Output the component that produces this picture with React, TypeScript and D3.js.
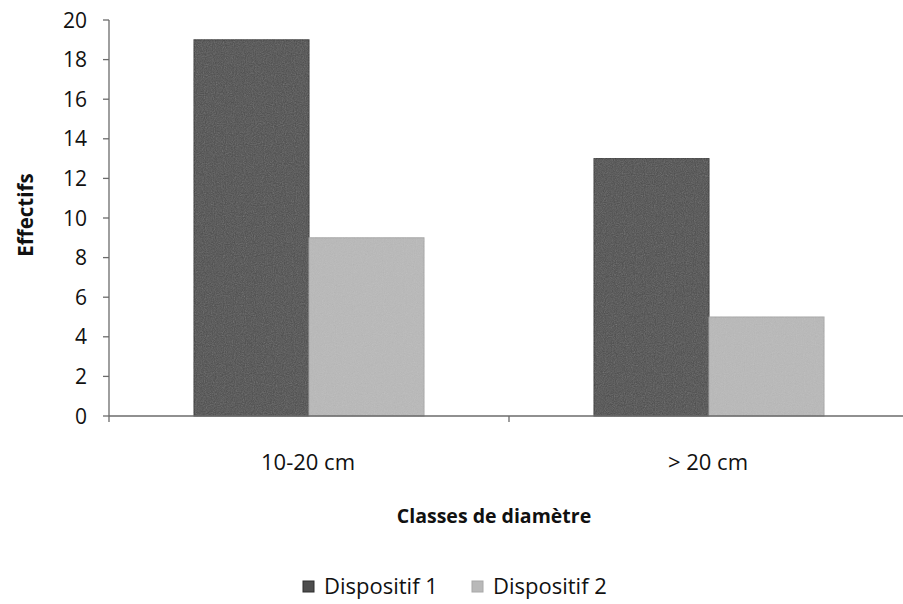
import React from "react";
import * as d3 from "d3";

const categories = ["10-20 cm", "> 20 cm"];
const seriesNames = ["Dispositif 1", "Dispositif 2"];
const dispositif1 = [19, 13];
const dispositif2 = [9, 5];
const yTicks = [0, 2, 4, 6, 8, 10, 12, 14, 16, 18, 20];

const W = 903;
const H = 604;
const FONT = "'Open Sans', 'Noto Sans', sans-serif";
const colors = ["#4d4d4d", "#b9b9b9"];
const strokes = ["#2e2e2e", "#a8a8a8"];

export default function App() {
  const left = 109;
  const right = 909;
  const top = 20;
  const bottom = 416;

  const y = d3.scaleLinear().domain([0, 20]).range([bottom, top]);
  const x0 = d3.scaleBand<string>().domain(categories).range([left, right]).paddingInner(0).paddingOuter(0);
  const barW = 115;
  const values = [dispositif1, dispositif2];

  return (
    <svg width={W} height={H} style={{ position: "absolute", left: 0, top: 0, background: "#fff" }}>
      <defs>
        <filter id="grain">
          <feTurbulence type="fractalNoise" baseFrequency="0.9" numOctaves="2" seed="3" result="n" />
          <feColorMatrix type="saturate" values="0" in="n" result="g" />
          <feComponentTransfer in="g" result="g2">
            <feFuncA type="linear" slope="0.18" />
          </feComponentTransfer>
          <feComposite in="g2" in2="SourceGraphic" operator="in" result="c" />
          <feMerge>
            <feMergeNode in="SourceGraphic" />
            <feMergeNode in="c" />
          </feMerge>
        </filter>
      </defs>

      {/* bars */}
      {categories.map((c, ci) => {
        const cx = (x0(c) as number) + x0.bandwidth() / 2;
        return values.map((vals, si) => (
          <rect
            key={c + si}
            x={cx - barW + si * barW}
            y={y(vals[ci])}
            width={barW}
            height={y(0) - y(vals[ci])}
            fill={colors[si]}
            stroke={strokes[si]}
            strokeWidth={1}
            filter="url(#grain)"
          />
        ));
      })}

      {/* y axis */}
      <line x1={left} x2={left} y1={y(20)} y2={bottom + 6} stroke="#6b6b6b" strokeWidth={1.3} />
      {yTicks.map((t) => (
        <g key={t}>
          <line x1={left - 6} x2={left} y1={y(t)} y2={y(t)} stroke="#6b6b6b" strokeWidth={1.3} />
          <text x={87} y={y(t)} dy="0.36em" textAnchor="end" fontFamily={FONT} fontSize={21} fill="#111">
            {t}
          </text>
        </g>
      ))}

      {/* x axis */}
      <line x1={left} x2={right} y1={bottom} y2={bottom} stroke="#6b6b6b" strokeWidth={1.3} />
      {categories.map((c) => (
        <line key={"t" + c} x1={(x0(c) as number) + x0.bandwidth()} x2={(x0(c) as number) + x0.bandwidth()} y1={bottom} y2={bottom + 6} stroke="#6b6b6b" strokeWidth={1.3} />
      ))}
      {categories.map((c) => (
        <text key={"l" + c} x={(x0(c) as number) + x0.bandwidth() / 2 - 1} y={470} textAnchor="middle" fontFamily={FONT} fontSize={22} fill="#111">
          {c}
        </text>
      ))}

      {/* axis titles */}
      <text x={494} y={523} textAnchor="middle" fontFamily={FONT} fontSize={19.5} fontWeight="bold" fill="#111">
        Classes de diamètre
      </text>
      <text transform="translate(33,215) rotate(-90)" textAnchor="middle" fontFamily={FONT} fontSize={20.5} fontWeight="bold" fill="#111">
        Effectifs
      </text>

      {/* legend */}
      {seriesNames.map((s, i) => {
        const lx = [303, 472][i];
        return (
          <g key={s}>
            <rect x={lx} y={581} width={11} height={11} fill={colors[i]} stroke={strokes[i]} />
            <text x={lx + 21} y={594} fontFamily={FONT} fontSize={22} fill="#111">
              {s}
            </text>
          </g>
        );
      })}
    </svg>
  );
}
